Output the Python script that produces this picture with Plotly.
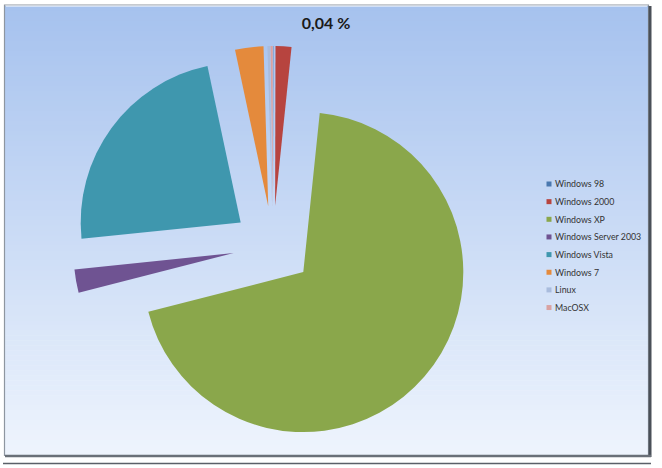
import plotly.graph_objects as go

# ---- data ----
labels = ["Windows 98", "Windows 2000", "Windows XP", "Windows Server 2003",
          "Windows Vista", "Windows 7", "Linux", "MacOSX"]
values = [0.04, 1.6, 69.37, 2.36, 23.3, 2.86, 0.25, 0.22]
colors = ["#4A78AF", "#B7443F", "#8AA74B", "#6F5392", "#3F97AE", "#E48A3C",
          "#A9BCDD", "#D9A2A2"]
title_text = "0,04 %"

W, H = 662, 468

def px(x):
    return x / W

def py(y):
    return 1 - y / H

fig = go.Figure()

# pie: centre (273,246), radius 160, pulled by 40 px
cx, cy, half = 273, 246, 200
fig.add_trace(go.Pie(
    labels=labels, values=values, sort=False, direction="clockwise", rotation=0,
    pull=[0.25] * len(values),
    marker=dict(colors=colors, line=dict(width=0)),
    textinfo="none", hoverinfo="label+percent", showlegend=False,
    domain=dict(x=[px(cx - half), px(cx + half)], y=[py(cy + half), py(cy - half)]),
))

shapes = []
# gradient background of the chart area
x0b, x1b, y0b, y1b = 5, 648, 6, 455
top = (166, 194, 238)
bot = (238, 244, 253)
n = 90
for i in range(n):
    t = i / (n - 1)
    c = tuple(int(round(top[k] + (bot[k] - top[k]) * t)) for k in range(3))
    ya = y0b + (y1b - y0b) * i / n
    yb = y0b + (y1b - y0b) * (i + 1) / n + 0.6
    shapes.append(dict(type="rect", xref="paper", yref="paper", layer="below",
                       x0=px(x0b), x1=px(x1b), y0=py(yb), y1=py(ya),
                       line=dict(width=0), fillcolor="rgb(%d,%d,%d)" % c))
# frame
shapes.append(dict(type="rect", xref="paper", yref="paper", layer="below",
                   x0=px(4.5), x1=px(648.5), y0=py(455.5), y1=py(5),
                   line=dict(width=1.2, color="#8E96A0"), fillcolor="rgba(0,0,0,0)"))
shapes.append(dict(type="line", xref="paper", yref="paper", layer="below",
                   x0=px(6), x1=px(647), y0=py(6.2), y1=py(6.2),
                   line=dict(width=1, color="#E6EEFA")))
shapes.append(dict(type="line", xref="paper", yref="paper", layer="below",
                   x0=px(650), x1=px(650), y0=py(457), y1=py(6),
                   line=dict(width=3, color="#4A5058")))
shapes.append(dict(type="line", xref="paper", yref="paper", layer="below",
                   x0=px(5), x1=px(651), y0=py(456), y1=py(456),
                   line=dict(width=2.5, color="#6A7078")))
shapes.append(dict(type="line", xref="paper", yref="paper", layer="below",
                   x0=px(3), x1=px(651), y0=py(463.5), y1=py(463.5),
                   line=dict(width=1.5, color="#5A6068")))

annotations = []
# legend built from labels / colours
ly0, lstep = 184, 17.65
for i, (lab, col) in enumerate(zip(labels, colors)):
    yy = ly0 + lstep * i
    shapes.append(dict(type="rect", xref="paper", yref="paper",
                       x0=px(546.5), x1=px(551.5), y0=py(yy + 2.5), y1=py(yy - 2.5),
                       line=dict(width=0), fillcolor=col))
    annotations.append(dict(text=lab, xref="paper", yref="paper", x=px(553), y=py(yy),
                            xanchor="left", yanchor="middle", showarrow=False,
                            font=dict(family="Lato", size=8.8, color="#333333")))

fig.update_layout(
    width=W, height=H,
    margin=dict(l=0, r=0, t=0, b=0),
    paper_bgcolor="white",
    plot_bgcolor="white",
    showlegend=False,
    title=dict(text="<b>" + title_text + "</b>", x=px(326), y=py(23),
               xanchor="center", yanchor="middle",
               font=dict(family="Lato", size=16, color="#1A1A1A")),
    shapes=shapes,
    annotations=annotations,
)

fig.write_html("out.html")
